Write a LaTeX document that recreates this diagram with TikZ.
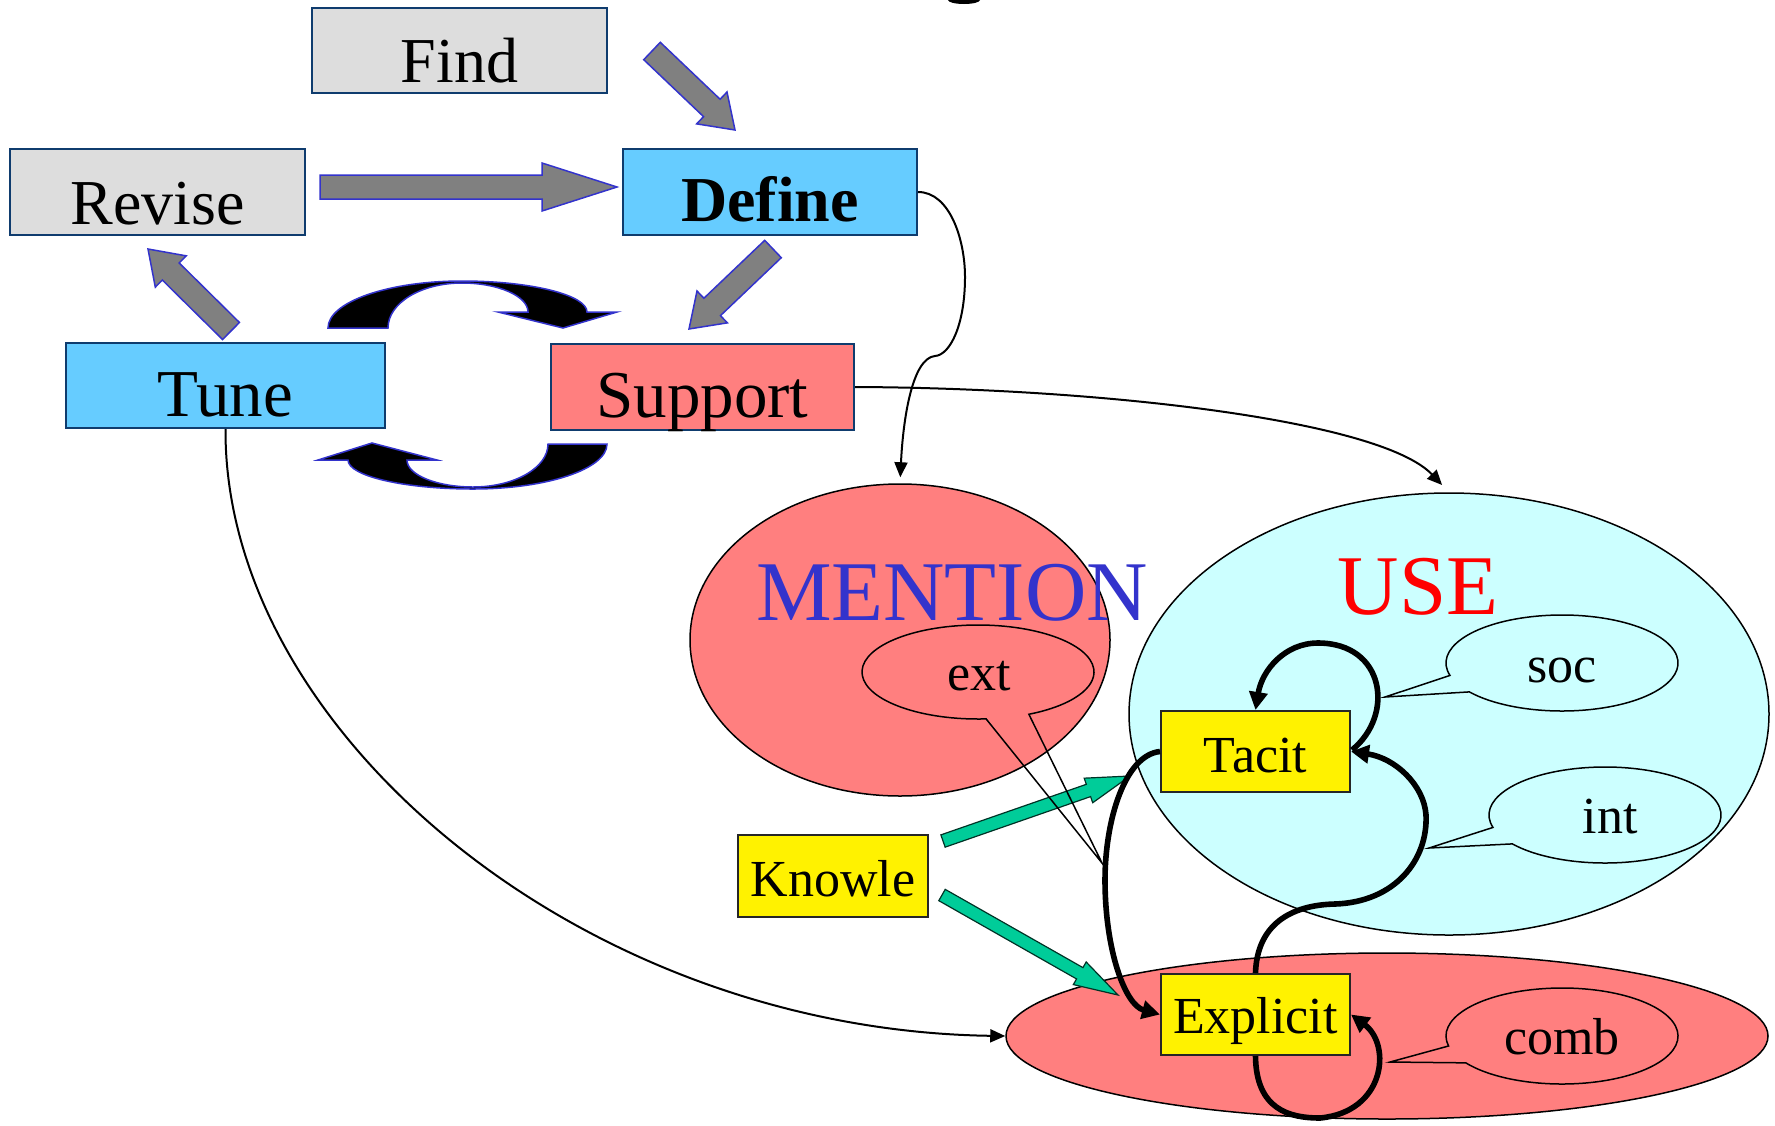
\documentclass[tikz,border=0pt]{standalone}
\usepackage{fontspec}
\setmainfont{Liberation Serif}
\usetikzlibrary{calc,arrows.meta,shapes.geometric}
\definecolor{boxgray}{HTML}{DDDDDD}
\definecolor{boxblue}{HTML}{66CCFF}
\definecolor{salmon}{HTML}{FF7F7F}
\definecolor{lightcyan}{HTML}{CCFFFF}
\definecolor{navy}{HTML}{0F3C6E}
\definecolor{arrblue}{HTML}{3333CC}
\definecolor{greenarr}{HTML}{00CC99}
\definecolor{grayarr}{HTML}{808080}
\definecolor{usered}{HTML}{FF0000}

% #1 style, #2 from, #3 to, #4 shaft half width, #5 head half width, #6 head length
\newcommand\blockarrow[6]{%
  \draw[#1] let \p1=($(#3)-(#2)$), \n1={atan2(\y1,\x1)} in
    ($(#2)+(\n1+90:#4)$) -- ($(#3)!#6!(#2)+(\n1+90:#4)$) -- ($(#3)!#6!(#2)+(\n1+90:#5)$)
    -- (#3) -- ($(#3)!#6!(#2)+(\n1-90:#5)$) -- ($(#3)!#6!(#2)+(\n1-90:#4)$)
    -- ($(#2)+(\n1-90:#4)$) -- cycle;}
% #1 center, #2 rx, #3 ry, #4 start angle, #5 end angle (+360), #6 tip
\newcommand\calloutshape[6]{%
  \draw[calloutline] ($(#1)+(#4:#2 and #3)$) arc[start angle=#4, end angle=#5, x radius=#2, y radius=#3] -- (#6) -- cycle;}

\begin{document}
\begin{tikzpicture}[x=0.5pt,y=-0.5pt,
  bigbox/.style={draw=navy, line width=1pt, inner sep=0pt, minimum height=0pt, font=\fontsize{32}{32}\selectfont},
  midbox/.style={bigbox, font=\fontsize{33.5}{33.5}\selectfont},
  ybox/.style={draw=black!85, line width=1pt, fill=yellow, inner sep=0pt, minimum height=0pt, minimum width=94.5pt, font=\fontsize{26}{26}\selectfont},
  region/.style={ellipse, draw=black, line width=0.75pt, inner sep=0pt},
  bigword/.style={anchor=base, font=\fontsize{42.5}{42.5}\selectfont, inner sep=0pt},
  smallword/.style={anchor=base, font=\fontsize{26}{26}\selectfont, inner sep=0pt},
  calloutline/.style={draw=black, line width=0.75pt},
  grayblk/.style={fill=grayarr, draw=arrblue, line width=0.75pt, line join=miter},
  greenblk/.style={fill=greenarr, draw=black!75!greenarr, line width=0.6pt, line join=miter},
  curvarr/.style={fill=black, draw=arrblue, line width=0.75pt},
  thinconn/.style={line width=1pt, -{Triangle[length=7.5pt,width=6.5pt]}},
  thickconn/.style={line width=2.8pt, -{Triangle[length=9pt,width=9pt]}}
]
\useasboundingbox (0,0) rectangle (1775,1125);

% title descender fragment
\fill (948,0) arc[start angle=180, end angle=0, x radius=16, y radius=4] -- cycle;

% regions
\node[region, fill=salmon, minimum width=210pt, minimum height=156pt] (mention) at (900,640) {};
\node[region, fill=lightcyan, minimum width=320pt, minimum height=221pt] (use) at (1449,714) {};
\node[region, fill=salmon, minimum width=381pt, minimum height=83pt] (bottom) at (1387,1036) {};

\node[bigword, text=arrblue] (mentiontxt) at (952,620) {MENTION};
\node[bigword, text=usered] (usetxt) at (1418,614) {USE};

% boxes
\node[bigbox, fill=boxgray, minimum width=147.5pt, text height=37pt, text depth=5.5pt] (find) at (459.5,50.5) {Find};
\node[bigbox, fill=boxgray, minimum width=147.5pt, text height=37.5pt, text depth=5.5pt] (revise) at (157.5,192) {Revise};
\node[bigbox, fill=boxblue, minimum width=147pt, text height=36pt, text depth=7pt, font=\fontsize{32}{32}\selectfont\bfseries] (define) at (770,192) {Define};
\node[midbox, fill=boxblue, minimum width=159.5pt, text height=36.5pt, text depth=6pt] (tune) at (225.5,385.5) {Tune};
\node[midbox, fill=salmon, minimum width=151.5pt, text height=36.5pt, text depth=6.5pt] (support) at (702.5,387) {Support};

\node[ybox, text height=30.5pt, text depth=10pt] (tacit) at (1255.5,751.5) {Tacit};
\node[ybox, minimum width=95pt, text height=30.5pt, text depth=10.5pt] (knowle) at (833,876) {Knowle};
\node[ybox, text height=29.5pt, text depth=11pt] (explicit) at (1255.5,1014.5) {Explicit};

% gray block arrows
\coordinate (fdA) at (652,51);  \coordinate (fdB) at (735,130);
\coordinate (rdA) at (320,187); \coordinate (rdB) at (617,187);
\coordinate (dsA) at (773,249); \coordinate (dsB) at (689,329);
\coordinate (trA) at (231,331); \coordinate (trB) at (148,249);
\blockarrow{grayblk}{fdA}{fdB}{6pt}{11pt}{16pt}
\blockarrow{grayblk}{rdA}{rdB}{6pt}{12pt}{37.5pt}
\blockarrow{grayblk}{dsA}{dsB}{6pt}{11pt}{16pt}
\blockarrow{grayblk}{trA}{trB}{6pt}{11pt}{16pt}

% circular black arrows between Tune and Support
\filldraw[curvarr] (328,328) .. controls (328,302) and (388,281) .. (462,281)
  .. controls (531,281) and (587,295) .. (587,312) -- (617,312) -- (563,328) -- (498,312) -- (528,312)
  .. controls (528,296) and (498,283) .. (462,283) .. controls (421,283) and (388,303) .. (388,328) -- cycle;
\filldraw[curvarr] (607,444) .. controls (607,469) and (547,489) .. (473,489)
  .. controls (404,489) and (348,476) .. (348,460) -- (318,460) -- (372,443) -- (437,460) -- (407,460)
  .. controls (407,475) and (437,487) .. (473,487) .. controls (514,487) and (548,468) .. (548,444) -- cycle;

% green block arrows
\coordinate (ktA) at (943,841); \coordinate (ktB) at (1130,776);
\coordinate (keA) at (942,895); \coordinate (keB) at (1118,995);
\blockarrow{greenblk}{ktA}{ktB}{3.25pt}{6.5pt}{22pt}
\blockarrow{greenblk}{keA}{keB}{3.25pt}{6.5pt}{22pt}

% callouts
\calloutshape{978,672}{116}{47}{86}{424}{1102,863}
\calloutshape{1562,663}{116}{48}{165}{503}{1385,697}
\calloutshape{1605,815}{116}{48}{165}{503}{1429,848}
\calloutshape{1562,1036}{116}{48}{168}{506}{1390,1062}
\node[smallword] (exttxt) at (979,690) {ext};
\node[smallword] (soctxt) at (1562,682) {soc};
\node[smallword] (inttxt) at (1610,833) {int};
\node[smallword] (combtxt) at (1562,1054) {comb};

% thin connectors
\draw[thinconn, shorten >=3pt] (define.east) .. controls (950,192) and (965,240) .. (965,277)
  .. controls (965,325) and (950,355) .. (935,356) .. controls (912,358) and (903,420) .. (mention.north);
\draw[thinconn, shorten >=5pt] (support.east) .. controls (1100,388) and (1380,420) .. (use.north);
\draw[thinconn] (tune.south) .. controls (224,730) and (580,1030) .. (bottom.west);

% thick connectors
\draw[thickconn] (1352,750) .. controls (1395,715) and (1385,643) .. (1318,643)
  .. controls (1285,643) and (1262,670) .. (tacit.north);
\draw[thickconn] (explicit.north) .. controls (1257,925) and (1290,905) .. (1335,904)
  .. controls (1395,902) and (1428,860) .. (1426,815) .. controls (1424,785) and (1395,758) .. (tacit.east);
\draw[thickconn] (tacit.west) .. controls (1125,755) and (1105,820) .. (1105,880)
  .. controls (1105,950) and (1125,1005) .. (explicit.west);
\draw[thickconn] (explicit.south) .. controls (1256,1110) and (1290,1118) .. (1320,1118)
  .. controls (1385,1112) and (1392,1045) .. (explicit.east);
\end{tikzpicture}
\end{document}
